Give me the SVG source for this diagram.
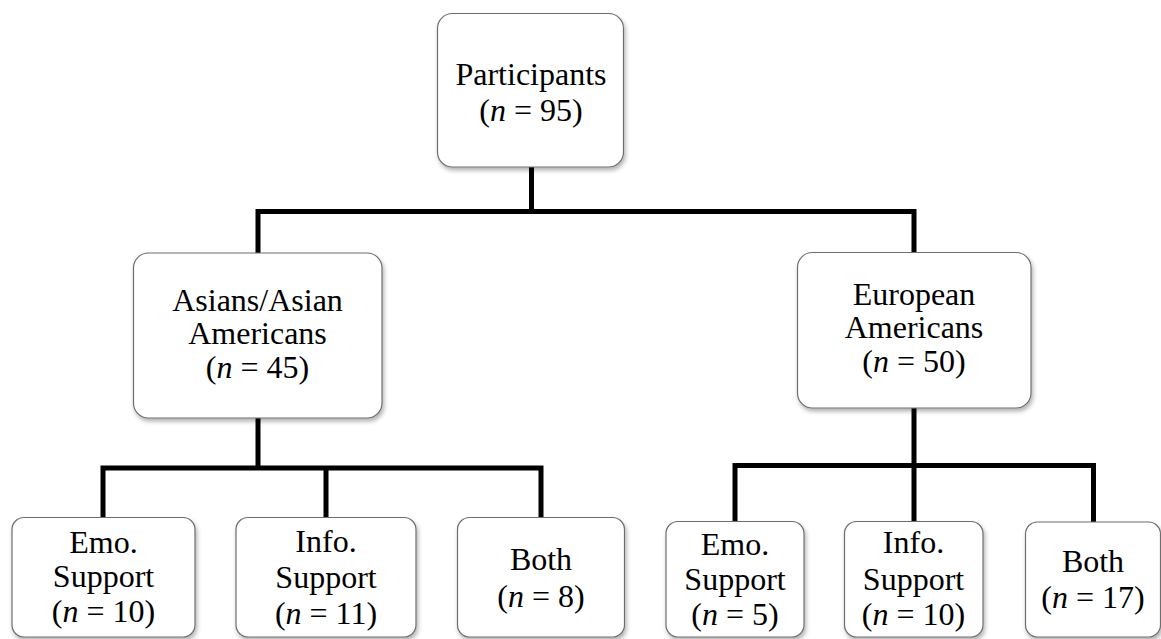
<svg xmlns="http://www.w3.org/2000/svg" width="1161" height="639" viewBox="0 0 1161 639">
  <defs>
    <filter id="sh" x="-10%" y="-10%" width="125%" height="125%">
      <feDropShadow dx="1.5" dy="3" stdDeviation="2" flood-color="#000" flood-opacity="0.3"/>
    </filter>
  </defs>
  <style>
    .box { fill: #ffffff; stroke: #6e6e6e; stroke-width: 1.2; filter: url(#sh); }
    .lbl { font-family: "Liberation Serif", "Times New Roman", serif; font-size: 32px; fill: #000; text-anchor: middle; }
    .it { font-style: italic; }
    .conn { fill: none; stroke: #000; stroke-width: 5; stroke-linejoin: miter; stroke-linecap: butt; }
  </style>
  <rect width="1161" height="639" fill="#ffffff"/>

  <g id="connectors">
    <path class="conn" d="M531.5,167 V211.5"/>
    <path class="conn" d="M258,253 V211.5 H914 V252"/>
    <path class="conn" d="M258,418 V468"/>
    <path class="conn" d="M103,517 V468 H541 V517"/>
    <path class="conn" d="M326,468 V517"/>
    <path class="conn" d="M914,408 V465.5"/>
    <path class="conn" d="M735,521 V465.5 H1093.5 V522"/>
    <path class="conn" d="M914,465.5 V521"/>
  </g>

  <g id="participants">
    <rect class="box" x="437.5" y="13.5" width="186" height="153.5" rx="15"/>
    <text class="lbl" x="531" y="85">Participants</text>
    <text class="lbl" x="531" y="121">(<tspan class="it">n</tspan> = 95)</text>
  </g>

  <g id="asian">
    <rect class="box" x="133.5" y="253" width="248.5" height="165" rx="15"/>
    <text class="lbl" x="257.5" y="311">Asians/Asian</text>
    <text class="lbl" x="257.5" y="344">Americans</text>
    <text class="lbl" x="257.5" y="378">(<tspan class="it">n</tspan> = 45)</text>
  </g>

  <g id="european">
    <rect class="box" x="797.5" y="252.5" width="233.5" height="155.5" rx="15"/>
    <text class="lbl" x="914" y="305">European</text>
    <text class="lbl" x="914" y="338">Americans</text>
    <text class="lbl" x="914" y="372">(<tspan class="it">n</tspan> = 50)</text>
  </g>

  <g id="emo1">
    <rect class="box" x="12" y="517.5" width="183" height="119.5" rx="12"/>
    <text class="lbl" x="103.5" y="553">Emo.</text>
    <text class="lbl" x="103.5" y="587">Support</text>
    <text class="lbl" x="103.5" y="622">(<tspan class="it">n</tspan> = 10)</text>
  </g>

  <g id="info1">
    <rect class="box" x="236" y="517.5" width="180" height="119.5" rx="12"/>
    <text class="lbl" x="326" y="552">Info.</text>
    <text class="lbl" x="326" y="588">Support</text>
    <text class="lbl" x="326" y="624">(<tspan class="it">n</tspan> = 11)</text>
  </g>

  <g id="both1">
    <rect class="box" x="457.5" y="517.5" width="167" height="119.5" rx="12"/>
    <text class="lbl" x="541" y="570">Both</text>
    <text class="lbl" x="541" y="607">(<tspan class="it">n</tspan> = 8)</text>
  </g>

  <g id="emo2">
    <rect class="box" x="666" y="521.5" width="138" height="115.5" rx="12"/>
    <text class="lbl" x="735" y="555">Emo.</text>
    <text class="lbl" x="735" y="590">Support</text>
    <text class="lbl" x="735" y="625">(<tspan class="it">n</tspan> = 5)</text>
  </g>

  <g id="info2">
    <rect class="box" x="844.5" y="521.5" width="138.5" height="115.5" rx="12"/>
    <text class="lbl" x="913.5" y="553">Info.</text>
    <text class="lbl" x="913.5" y="590">Support</text>
    <text class="lbl" x="913.5" y="625">(<tspan class="it">n</tspan> = 10)</text>
  </g>

  <g id="both2">
    <rect class="box" x="1025.5" y="522" width="135" height="115" rx="12"/>
    <text class="lbl" x="1093" y="572">Both</text>
    <text class="lbl" x="1093" y="608">(<tspan class="it">n</tspan> = 17)</text>
  </g>
</svg>
